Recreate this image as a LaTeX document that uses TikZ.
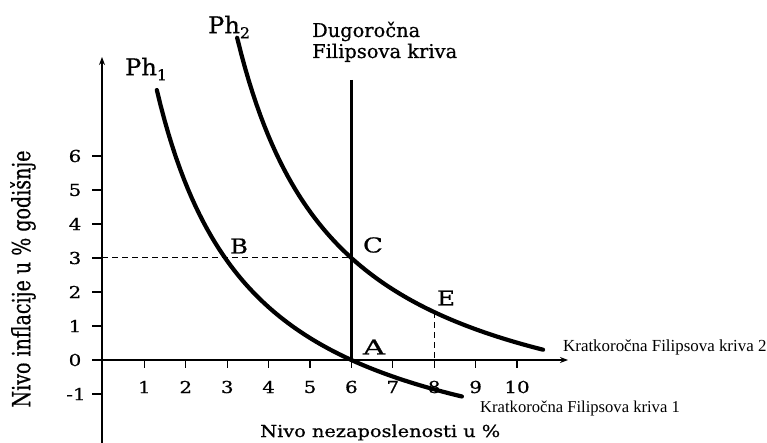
\documentclass[tikz,border=0pt]{standalone}
\usepackage{fontspec}
\usepackage{graphicx}
\setmainfont{Liberation Serif}
\newfontfamily\dvs[FakeBold=0.6]{DejaVu Serif}
\usetikzlibrary{arrows.meta}
\newcommand\myfs[1]{\fontsize{#1}{#1}\selectfont}
\newcommand\fitw[2]{\resizebox{#1}{\height}{#2}}
\begin{document}
\begin{tikzpicture}[x=1pt,y=-1pt,
  axisline/.style={line width=1.4pt,-{Stealth[length=8pt,width=6pt]}},
  tickline/.style={line width=1.1pt},
  phcurve/.style={line width=4.2pt,line cap=round},
  lrline/.style={line width=2.5pt},
  guide/.style={line width=1pt,dash pattern=on 6pt off 4pt},
  ticklab/.style={inner sep=0pt,font=\dvs\myfs{16.5}},
  ptlab/.style={inner sep=0pt,font=\dvs\myfs{20.5}},
  phlab/.style={inner sep=0pt,font=\dvs\myfs{23}},
  lrlab/.style={inner sep=0pt,font=\dvs\myfs{19},anchor=base west},
  krlab/.style={inner sep=0pt,anchor=base west},
]
\useasboundingbox (0,0) rectangle (767,443);
\fill[white] (0,0) rectangle (767,443);

% axes
\coordinate (O) at (102,360);
\coordinate (ytop) at (102,57);
\coordinate (ybot) at (102,443);
\coordinate (xend) at (568,360);
\draw[axisline] (ybot) -- (ytop);
\draw[axisline] (O) -- (xend);

% ticks
\foreach \i in {1,...,10} \draw[tickline] ({103+41.4*\i},360) -- ++(0,8);
\foreach \j in {-1,...,6} \draw[tickline] (102,{360-34*\j}) -- ++(-10,0);

% tick labels
\foreach \i in {1,...,10} \node[ticklab] (xl\i) at ({103+41.4*\i},387) {\scalebox{1.2}[1]{\i}};
\foreach \j in {0,...,6} \node[ticklab] (yl\j) at (75,{360-34*\j}) {\scalebox{1.2}[1]{\j}};
\node[ticklab] (ylm1) at (76,394) {\scalebox{1.2}[1]{-1}};

% key points
\coordinate (LRtop) at (351.4,80);
\coordinate (A) at (351.4,360);
\coordinate (C) at (351.4,258);
\coordinate (Y3) at (102,258);
\coordinate (E) at (434.2,312.1);
\coordinate (E8) at (434.2,360);

% guides
\draw[guide] (Y3) -- (C);
\draw[guide] (E) -- (E8);

% long-run line
\draw[lrline] (LRtop) -- (A);

% short-run curves
\draw[phcurve] plot[domain=1.30:8.67,samples=80] ({103+41.4*\x},{360-34*(27.2/(\x+1)-3.886)});
\draw[phcurve] plot[domain=3.24:10.63,samples=80] ({103+41.4*\x},{360-34*(29.78/(\x-0.8)-2.727)});

% point labels
\node[ptlab] (lB) at (239,246) {\fitw{18pt}{B}};
\node[ptlab] (lC) at (373,245) {\fitw{20pt}{C}};
\node[ptlab] (lA) at (374,347) {\fitw{22pt}{A}};
\node[ptlab] (lE) at (446,298) {\fitw{18pt}{E}};

% curve names
\node[phlab] (ph1) at (146,69) {\fitw{42pt}{Ph\raisebox{-5pt}{\myfs{15}1}}};
\node[phlab] (ph2) at (229,27) {\fitw{42pt}{Ph\raisebox{-5pt}{\myfs{15}2}}};

\node[lrlab] (lr1) at (312,37) {\fitw{108pt}{Dugoročna}};
\node[lrlab] (lr2) at (312,58) {\fitw{145pt}{Filipsova kriva}};

\node[krlab,font=\myfs{16.9}] (k2) at (563,351) {Kratkoročna Filipsova kriva 2};
\node[krlab,font=\myfs{16.6}] (k1) at (480,412) {Kratkoročna Filipsova kriva 1};

% axis titles
\node[krlab,font=\dvs\myfs{16.5}] (xt) at (260,437) {\fitw{240pt}{Nivo nezaposlenosti u \%}};
\node[inner sep=0pt,rotate=90,font=\dvs\myfs{25}] (yt) at (23,279) {\fitw{257pt}{Nivo inflacije u \% godišnje}};
\end{tikzpicture}
\end{document}
